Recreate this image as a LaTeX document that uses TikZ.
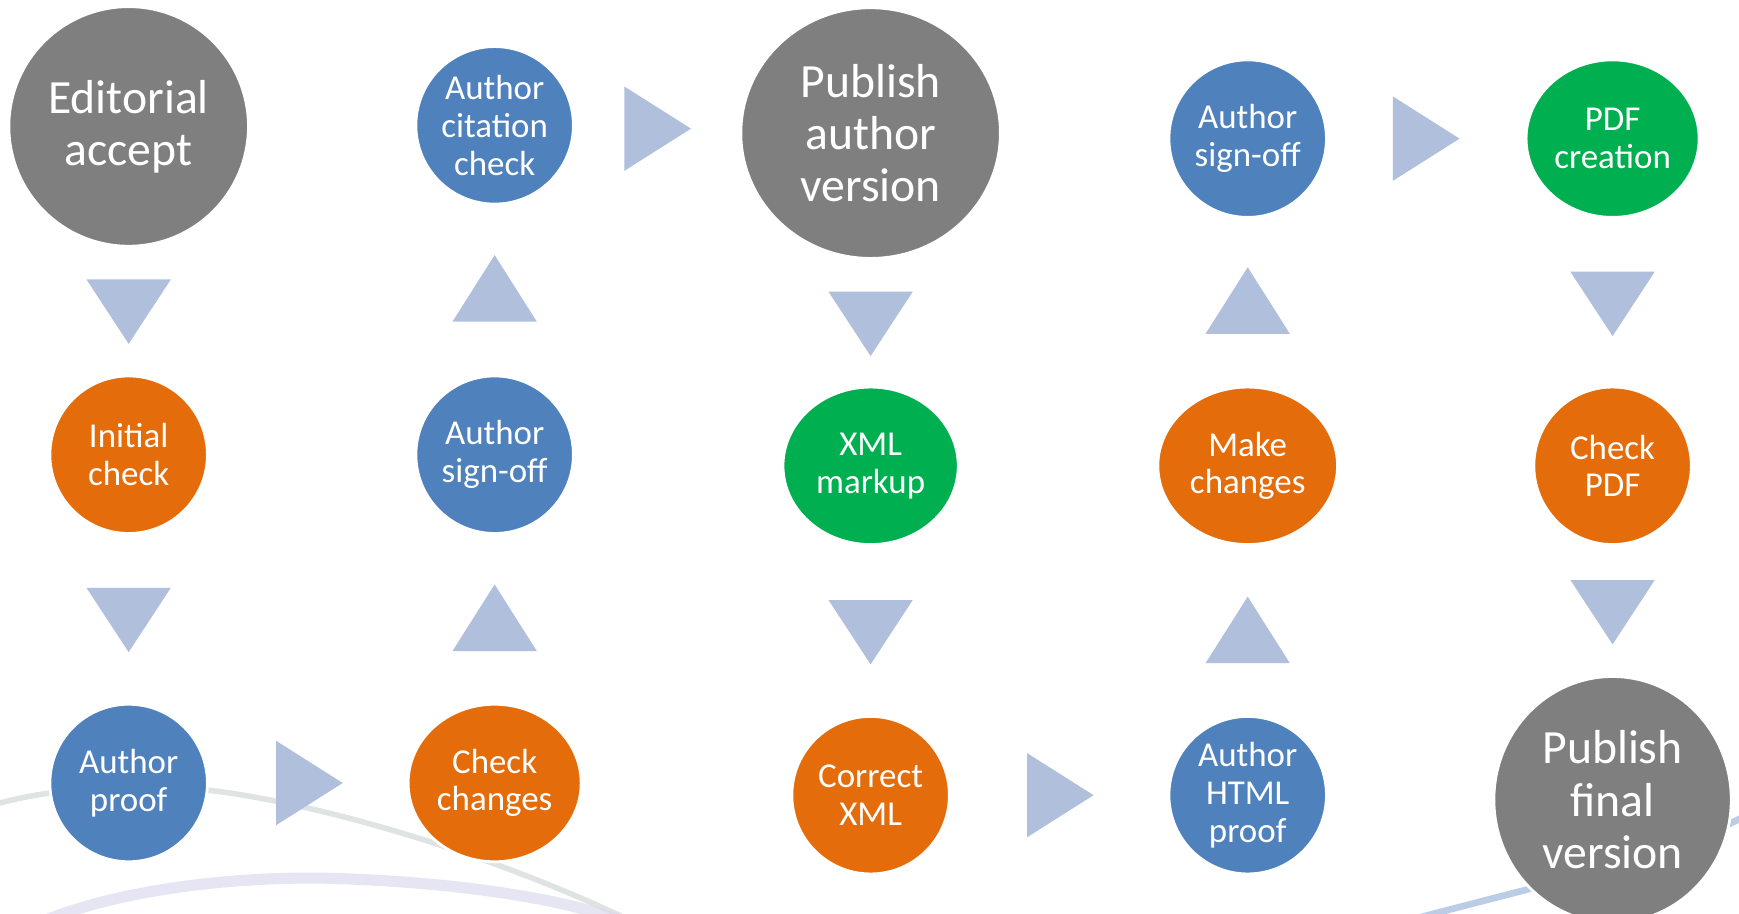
\documentclass[tikz,border=0pt]{standalone}
\usepackage{fontspec}
\setmainfont{Carlito}
\usetikzlibrary{shapes.geometric}
\definecolor{cgray}{HTML}{7F7F7F}
\definecolor{cblue}{HTML}{4F81BD}
\definecolor{corange}{HTML}{E46C0A}
\definecolor{cgreen}{HTML}{00B050}
\definecolor{ctri}{HTML}{AFBFDC}
\definecolor{swgreen}{HTML}{B9C4C0}
\definecolor{swlav}{HTML}{DADAEE}
\definecolor{swblue}{HTML}{A9C0E0}
\begin{document}
\begin{tikzpicture}[x=1pt,y=-1pt,
  stepnode/.style={ellipse, draw=white, line width=2.5pt, text=white, align=center,
    inner sep=-14pt, minimum width=142pt, minimum height=142pt,
    font=\fontsize{31.5}{34}\selectfont},
  bignode/.style={stepnode, font=\fontsize{43}{47}\selectfont},
  grayfill/.style={fill=cgray},
  bluefill/.style={fill=cblue},
  orangefill/.style={fill=corange},
  greenfill/.style={fill=cgreen},
  tridown/.pic={\fill[ctri] (-38,-29) -- (38,-29) -- (0,29) -- cycle;},
  triup/.pic={\fill[ctri] (-38,30) -- (38,30) -- (0,-30) -- cycle;},
  triright/.pic={\fill[ctri] (-30,-38) -- (-30,38) -- (30,0) -- cycle;},
  swoosh/.style={line cap=round}
]
\useasboundingbox (0,0) rectangle (1568,824);
\fill[white] (0,0) rectangle (1568,824);

% background swooshes
\draw[swoosh, swgreen!45, line width=5pt] (0,724) .. controls (60,708) and (140,706) .. (200,714)
   .. controls (300,728) and (440,770) .. (560,826);
\draw[swoosh, swlav, line width=10pt, opacity=0.7] (40,830) .. controls (120,798) and (230,790) .. (300,792)
   .. controls (400,795) and (500,808) .. (560,830);
\draw[swoosh, swblue, line width=6pt, opacity=0.8] (1270,830) .. controls (1380,800) and (1500,775) .. (1575,735);

% column 1
\node[bignode, grayfill, minimum width=216pt, minimum height=216pt] (ea) at (116,114) {Editorial\\accept};
\node[stepnode, orangefill] (ic) at (116,410) {Initial\\check};
\node[stepnode, bluefill] (ap) at (116,706) {Author\\proof};
% column 2
\node[stepnode, bluefill] (acc) at (446,113) {Author\\citation\\check};
\node[stepnode, bluefill] (aso1) at (446,410) {Author\\sign-off};
\node[stepnode, orangefill, minimum width=156pt] (cc) at (446,706) {Check\\changes};
% column 3
\node[bignode, grayfill, minimum width=234pt, minimum height=226pt] (pav) at (785,120) {Publish\\author\\version};
\node[stepnode, greenfill, minimum width=158pt] (xm) at (785,420) {XML\\markup};
\node[stepnode, orangefill] (cx) at (785,717) {Correct\\XML};
% column 4
\node[stepnode, bluefill] (aso2) at (1125,125) {Author\\sign-off};
\node[stepnode, orangefill, minimum width=162pt] (mc) at (1125,420) {Make\\changes};
\node[stepnode, bluefill] (ahp) at (1125,717) {Author\\HTML\\proof};
% column 5
\node[stepnode, greenfill, minimum width=156pt] (pdfc) at (1454,125) {PDF\\creation};
\node[stepnode, orangefill] (cpdf) at (1454,420) {Check\\PDF};
\node[bignode, grayfill, minimum width=214pt, minimum height=222pt] (pfv) at (1454,721) {Publish\\final\\version};

% triangle arrows
\path (116,281) pic {tridown};
\path (116,559) pic {tridown};
\path (279,706) pic {triright};
\path (446,557) pic {triup};
\path (446,260) pic {triup};
\path (593,116) pic {triright};
\path (785,292) pic {tridown};
\path (785,570) pic {tridown};
\path (956,717) pic {triright};
\path (1125,568) pic {triup};
\path (1125,271) pic {triup};
\path (1286,125) pic {triright};
\path (1454,274) pic {tridown};
\path (1454,552) pic {tridown};
\end{tikzpicture}
\end{document}
